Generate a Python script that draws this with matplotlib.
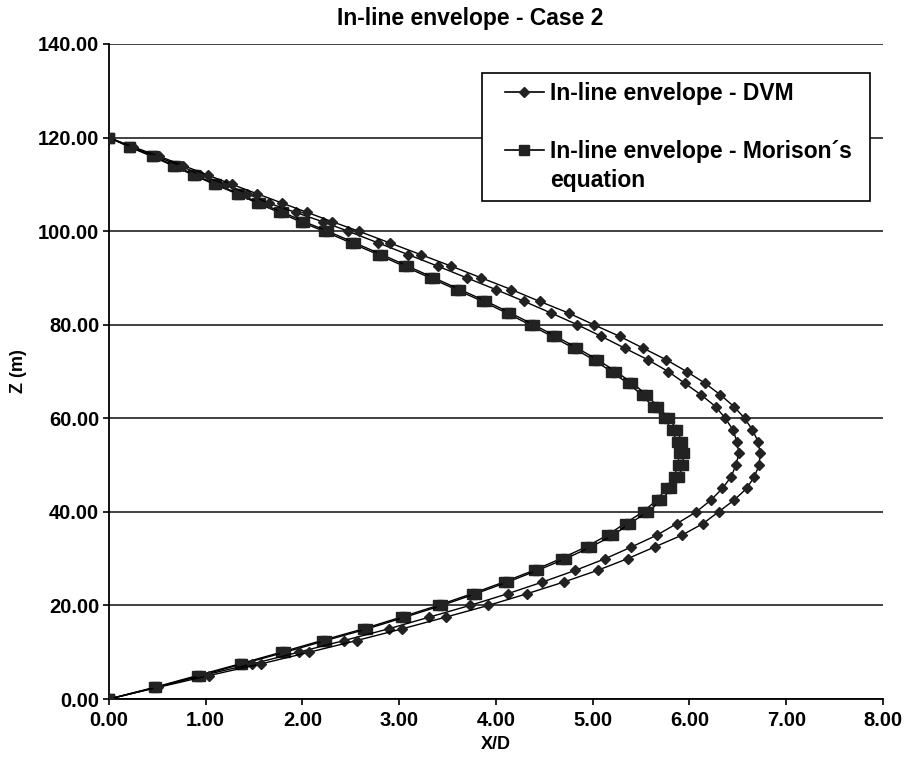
import numpy as np
import matplotlib
matplotlib.use("Agg")
import matplotlib.pyplot as plt
from matplotlib.lines import Line2D
from matplotlib.legend_handler import HandlerLine2D
from matplotlib.ticker import FormatStrFormatter

plt.rcParams["font.family"] = ["Liberation Sans", "DejaVu Sans"]
plt.rcParams["font.weight"] = "bold"

# depth along the riser (m)
z = [0, 2.5, 5, 7.5, 10, 12.5, 15, 17.5, 20, 22.5, 25, 27.5, 30, 32.5, 35,
     37.5, 40, 42.5, 45, 47.5, 50, 52.5, 55, 57.5, 60, 62.5, 65, 67.5, 70,
     72.5, 75, 77.5, 80, 82.5, 85, 87.5, 90, 92.5, 95, 97.5, 100,
     102, 104, 106, 108, 110, 112, 114, 116, 118, 120]

# DVM in-line envelope (min / max), X/D
dvm_min = [0, 0.49, 0.96, 1.48, 1.96, 2.43, 2.89, 3.31, 3.73, 4.12, 4.48,
           4.82, 5.13, 5.40, 5.66, 5.87, 6.07, 6.22, 6.34, 6.43, 6.48, 6.51,
           6.49, 6.45, 6.37, 6.27, 6.12, 5.95, 5.78, 5.57, 5.33, 5.09, 4.84,
           4.57, 4.29, 4.00, 3.70, 3.40, 3.09, 2.78, 2.47,
           2.21, 1.93, 1.65, 1.43, 1.21, 0.94, 0.74, 0.48, 0.23, 0]
dvm_max = [0, 0.51, 1.03, 1.57, 2.07, 2.56, 3.03, 3.48, 3.92, 4.32, 4.70,
           5.05, 5.36, 5.64, 5.92, 6.14, 6.30, 6.46, 6.59, 6.67, 6.72, 6.73,
           6.71, 6.65, 6.57, 6.46, 6.32, 6.16, 5.97, 5.76, 5.52, 5.28, 5.01,
           4.75, 4.45, 4.16, 3.85, 3.54, 3.22, 2.90, 2.58,
           2.31, 2.05, 1.79, 1.53, 1.27, 1.02, 0.77, 0.52, 0.25, 0]

# Morison's equation in-line envelope (min / max), X/D
mor_min = [0, 0.47, 0.91, 1.35, 1.78, 2.20, 2.63, 3.02, 3.40, 3.75, 4.08,
           4.39, 4.67, 4.93, 5.15, 5.33, 5.52, 5.66, 5.76, 5.84, 5.88, 5.89,
           5.87, 5.82, 5.74, 5.62, 5.51, 5.36, 5.19, 5.01, 4.80, 4.58, 4.35,
           4.11, 3.86, 3.59, 3.32, 3.05, 2.78, 2.50, 2.22,
           1.98, 1.76, 1.53, 1.32, 1.09, 0.87, 0.66, 0.44, 0.21, 0]
mor_max = [0, 0.49, 0.94, 1.38, 1.82, 2.24, 2.67, 3.06, 3.44, 3.79, 4.12,
           4.43, 4.72, 4.98, 5.21, 5.38, 5.57, 5.71, 5.81, 5.89, 5.93, 5.94,
           5.92, 5.87, 5.79, 5.67, 5.56, 5.41, 5.24, 5.05, 4.84, 4.62, 4.39,
           4.15, 3.90, 3.63, 3.36, 3.09, 2.82, 2.54, 2.26,
           2.02, 1.80, 1.56, 1.34, 1.11, 0.89, 0.68, 0.46, 0.22, 0]

labels = ["In-line envelope - DVM", "In-line envelope - Morison\u00b4s", "equation"]

fig = plt.figure(figsize=(9.05, 7.69), dpi=100)
ax = fig.add_axes([0.1204, 0.0910, 0.8553, 0.8518])

for xs in (dvm_min, dvm_max):
    ax.plot(xs, z, color="black", lw=1.0, marker="D", ms=5.6,
            mfc="#222222", mec="#222222", zorder=3)
for xs in (mor_min, mor_max):
    ax.plot(xs, z, color="black", lw=1.0, marker="s", ms=7.4,
            mfc="#222222", mec="#222222", zorder=2)

ax.set_xlim(0, 8)
ax.set_ylim(0, 140)
ax.set_xticks(np.arange(0, 8.01, 1))
ax.set_yticks(np.arange(0, 140.1, 20))
ax.xaxis.set_major_formatter(FormatStrFormatter("%.2f"))
ax.yaxis.set_major_formatter(FormatStrFormatter("%.2f"))
ax.tick_params(direction="out", length=4, width=1.2, labelsize=14.5, pad=3)
ax.tick_params(axis="x", pad=4.5)
ax.grid(axis="y", color="#333333", lw=1.3)
ax.set_axisbelow(True)
for side in ("top", "right"):
    ax.spines[side].set_visible(False)
for side in ("left", "bottom"):
    ax.spines[side].set_linewidth(1.3)

fig.text(470 / 905, 1 - 19 / 769, "In-line envelope - Case 2", fontsize=16.5,
         fontweight="bold", ha="center", va="center")
ax.set_xlabel("X/D", fontsize=13, fontweight="bold")
ax.set_ylabel("Z (m)", fontsize=13, fontweight="bold")
ax.xaxis.set_label_coords(0.5, -0.0565)
ax.yaxis.set_label_coords(-0.106, 0.5)

h_dvm = Line2D([], [], color="black", lw=1.2, marker="D", ms=5,
               mfc="#222222", mec="#222222")
h_mor = Line2D([], [], color="black", lw=1.2, marker="s", ms=6.5,
               mfc="#222222", mec="#222222")
h_blank = Line2D([], [], linestyle="none")
fs = 16.5
pad = HandlerLine2D(numpoints=1, xpad=0.57)
leg = ax.legend([h_dvm, h_blank, h_mor, h_blank],
                [labels[0], " ", labels[1], labels[2]],
                loc="upper left", bbox_to_anchor=(0.482, 0.756, 0.501, 0.2),
                mode="expand", borderaxespad=0,
                prop={"weight": "bold", "size": fs},
                handlelength=2.27, handletextpad=0.26, labelspacing=0.25,
                borderpad=0.42, fancybox=False, framealpha=1,
                edgecolor="black", numpoints=1,
                handler_map={h_dvm: pad, h_mor: pad, h_blank: pad})
leg.get_frame().set_linewidth(1.2)

fig.savefig("out.png", dpi=100)
